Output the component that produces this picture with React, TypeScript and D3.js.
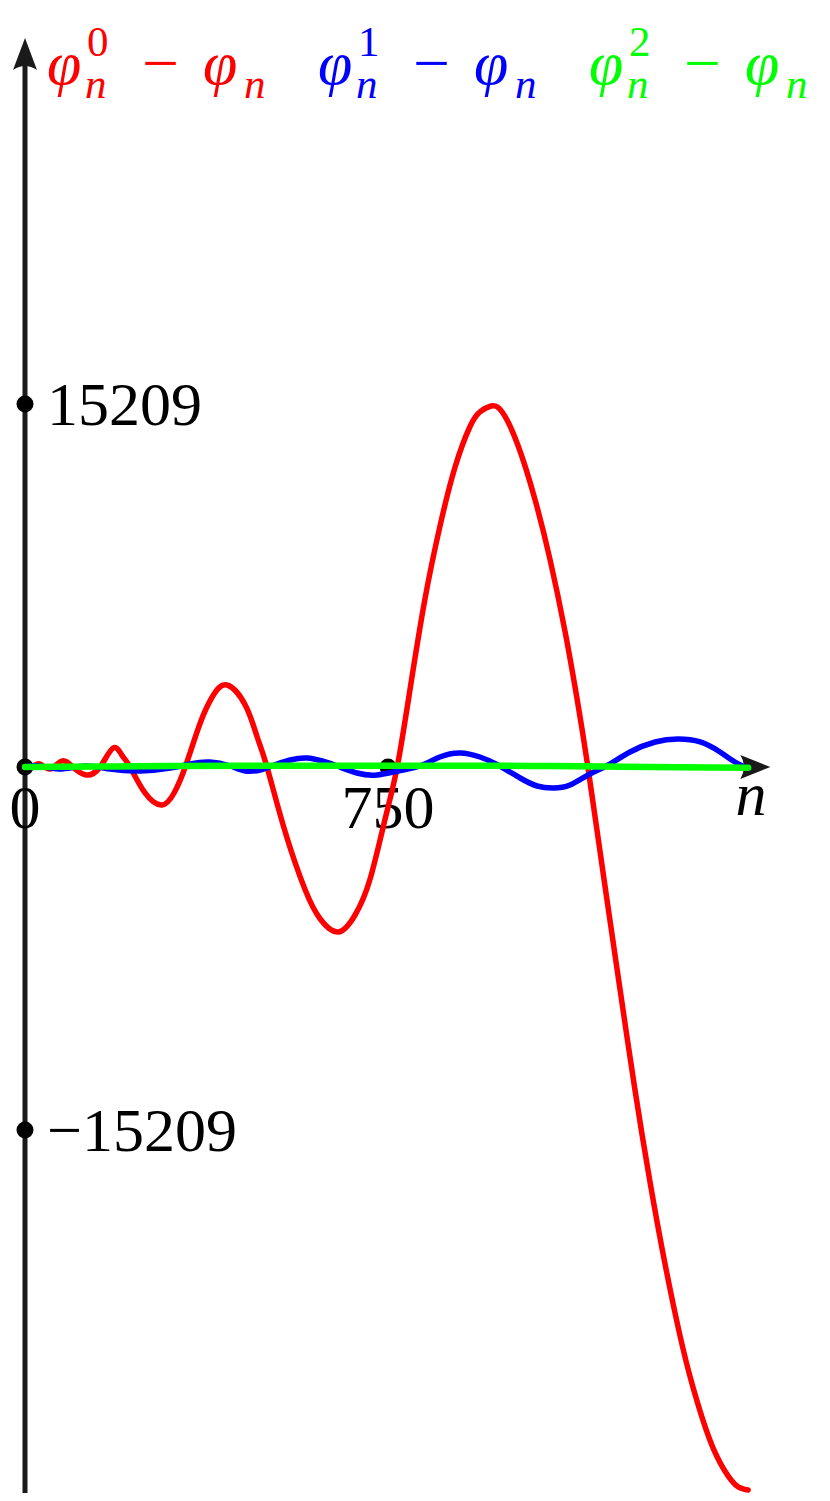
import React from 'react';
import * as d3 from 'd3';

// axis ticks
const xTicks = [0, 750];
const yTicks = [15209, -15209];

// phi^0_n - phi_n
const redN = [0, 17, 31, 52, 76, 99, 126, 155, 182, 200, 217, 248, 283, 308, 331, 362, 388, 417, 455, 479, 500, 537, 579, 610, 647, 682, 713, 744, 769, 795, 826, 857, 888, 919, 940, 963, 986, 1019, 1054, 1085, 1116, 1140, 1163, 1198, 1229, 1260, 1291, 1322, 1353, 1380, 1415, 1446, 1471, 1494];
const redV = [0, 42, 126, -84, 251, 0, -335, 0, 796, 503, 0, -1089, -1592, -1089, 0, 1844, 2975, 3436, 2598, 1299, 0, -2682, -5154, -6369, -6914, -6201, -4693, -2179, 0, 3184, 6997, 10056, 12528, 14246, 14874, 15125, 14874, 13450, 11187, 8673, 5657, 2933, 0, -4944, -9260, -13492, -17347, -20782, -23799, -25978, -28199, -29498, -30126, -30294];

// phi^1_n - phi_n
const blueN = [0, 31, 72, 124, 176, 238, 300, 341, 382, 424, 455, 486, 510, 548, 583, 614, 645, 686, 727, 771, 816, 857, 899, 940, 977, 1023, 1058, 1091, 1126, 1167, 1205, 1250, 1302, 1349, 1395, 1436, 1467, 1492];
const blueV = [0, 42, -84, 42, -84, -168, -42, 126, 210, 42, -168, -126, 42, 293, 377, 251, 42, -251, -335, -168, 42, 419, 587, 419, 84, -461, -796, -880, -754, -293, 84, 629, 1048, 1173, 1048, 629, 210, -42];

// phi^2_n - phi_n
const greenN = [0, 150, 300, 450, 600, 750, 900, 1050, 1200, 1350, 1494];
const greenV = [0, 20, 40, 50, 55, 55, 55, 45, 20, -10, -30];

const legendSups = ['0', '1', '2'];
const colors = ['#ff0000', '#0000ff', '#00ff00'];

const W = 830;
const H = 1501;
const serif = '"Liberation Serif", "DejaVu Serif", serif';

export default function App() {
  const x = d3.scaleLinear().domain([0, 1500]).range([25, 751]);
  const y = d3.scaleLinear().domain([-15209, 15209]).range([1130, 404]);

  const line = d3.line<[number, number]>()
    .x(d => x(d[0]))
    .y(d => y(d[1]))
    .curve(d3.curveNatural);

  const series = [
    { n: redN, v: redV, color: colors[0], w: 5.5 },
    { n: blueN, v: blueV, color: colors[1], w: 5.5 },
    { n: greenN, v: greenV, color: colors[2], w: 6.5 },
  ];

  const x0 = x(0);
  const y0 = y(0);
  const yTop = y(30418) - 3;
  const yBot = y(-30418);
  const xEnd = x(1540);

  return (
    <svg width={W} height={H} style={{ position: 'absolute', left: 0, top: 0, background: '#fff' }}>
      {/* axes */}
      <line x1={x0} y1={yBot} x2={x0} y2={yTop + 20} stroke="#1a1a1a" strokeWidth={5} />
      <path d={`M${x0},${yTop} L${x0 + 12},${yTop + 32} Q${x0},${yTop + 24} ${x0 - 12},${yTop + 32} Z`} fill="#1a1a1a" />
      <line x1={x0} y1={y0} x2={xEnd - 20} y2={y0} stroke="#1a1a1a" strokeWidth={4} />
      <path d={`M${xEnd},${y0} L${xEnd - 30},${y0 - 12} Q${xEnd - 23},${y0} ${xEnd - 30},${y0 + 12} Z`} fill="#1a1a1a" />

      {/* tick labels */}
      <g fontFamily={serif} fontSize={62} fill="#000">
        {yTicks.map(t => (
          <text key={t} x={x0 + 22} y={y(t) + 21}>{t < 0 ? '\u2212' + Math.abs(t) : String(t)}</text>
        ))}
        {xTicks.map(t => (
          <text key={t} x={x(t)} y={y0 + 61} textAnchor="middle">{t}</text>
        ))}
        <text x={x(1500)} y={y0 + 48} textAnchor="middle" fontStyle="italic">n</text>
      </g>

      {/* tick dots */}
      {yTicks.map(t => <circle key={t} cx={x0} cy={y(t)} r={8.5} fill="#000" />)}
      {xTicks.map(t => <circle key={t} cx={x(t)} cy={y0} r={8.5} fill="#000" />)}

      {/* curves */}
      {series.map((s, i) => (
        <path key={i}
          d={line(s.n.map((n, j) => [n, s.v[j]] as [number, number])) || ''}
          fill="none" stroke={s.color} strokeWidth={s.w}
          strokeLinecap="round" strokeLinejoin="round" />
      ))}

      {/* legend */}
      <g fontFamily={serif}>
        {legendSups.map((sup, i) => {
          const lx = 47 + i * 271;
          const base = 84;
          return (
            <g key={sup} fill={colors[i]}>
              <text fontSize={62} fontStyle="italic">
                <tspan x={lx} y={base}>φ</tspan>
                <tspan x={lx + 40} y={base - 28} fontSize={43} fontStyle="normal">{sup}</tspan>
                <tspan x={lx + 38} y={base + 14} fontSize={43}>n</tspan>
              </text>
              <text x={lx + 95} y={base} fontSize={62} textLength={37} lengthAdjust="spacingAndGlyphs">{'\u2212'}</text>
              <text fontSize={62} fontStyle="italic">
                <tspan x={lx + 156} y={base}>φ</tspan>
                <tspan x={lx + 197} y={base + 14} fontSize={43}>n</tspan>
              </text>
            </g>
          );
        })}
      </g>
    </svg>
  );
}
